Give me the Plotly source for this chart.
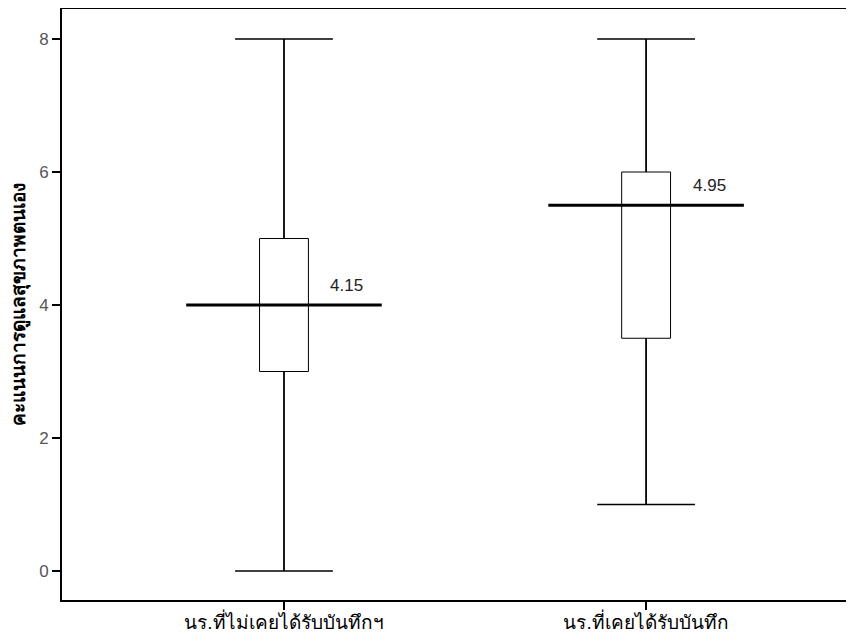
import plotly.graph_objects as go

categories = ["นร.ที่ไม่เคยได้รับบันทึกฯ", "นร.ที่เคยได้รับบันทึก"]
positions = [0, 1]
mins = [0, 1]
q1s = [3, 3.5]
medians = [4, 5.5]
q3s = [5, 6]
maxs = [8, 8]
means = [4.15, 4.95]
y_ticks = [0, 2, 4, 6, 8]
y_title = "คะแนนการดูแลสุขภาพตนเอง"

BOX_W = 0.135
CAP_HALF = 0.135
MED_HALF = 0.27

fig = go.Figure()

for i, p in enumerate(positions):
    fig.add_trace(go.Box(
        x=[p], q1=[q1s[i]], median=[medians[i]], q3=[q3s[i]],
        lowerfence=[mins[i]], upperfence=[maxs[i]],
        width=BOX_W, whiskerwidth=0, fillcolor="white",
        line=dict(color="black", width=1), boxpoints=False,
        showlegend=False, hoverinfo="skip",
    ))
    # whiskers
    fig.add_trace(go.Scatter(
        x=[p, p, None, p, p], y=[mins[i], q1s[i], None, q3s[i], maxs[i]],
        mode="lines", line=dict(color="black", width=1.6),
        showlegend=False, hoverinfo="skip"))
    # caps
    fig.add_trace(go.Scatter(
        x=[p - CAP_HALF, p + CAP_HALF, None, p - CAP_HALF, p + CAP_HALF],
        y=[mins[i], mins[i], None, maxs[i], maxs[i]],
        mode="lines", line=dict(color="black", width=1.6),
        showlegend=False, hoverinfo="skip"))
    # median
    fig.add_trace(go.Scatter(
        x=[p - MED_HALF, p + MED_HALF], y=[medians[i], medians[i]],
        mode="lines", line=dict(color="black", width=3.2),
        showlegend=False, hoverinfo="skip"))
    fig.add_annotation(
        x=p, y=medians[i], text=f"{means[i]:.2f}", showarrow=False,
        xshift=63, yshift=20, font=dict(size=17, color="#222222",
        family="Liberation Sans, Arial, sans-serif"))

fig.update_layout(
    width=838, height=626,
    margin=dict(l=54, r=0, t=1, b=34),
    plot_bgcolor="white", paper_bgcolor="white",
    font=dict(family="Liberation Sans, Arial, sans-serif"),
)
fig.update_xaxes(
    range=[-0.613, 1.552], tickvals=positions, ticktext=categories,
    showgrid=False, zeroline=False, showline=True, linecolor="black",
    linewidth=2, mirror=True, ticks="outside", ticklen=8, tickwidth=1.5,
    tickcolor="black", tickfont=dict(size=19, color="black"),
    ticklabelstandoff=-4, automargin=False,
)
fig.update_yaxes(
    range=[-0.436, 8.451], tickvals=y_ticks,
    showgrid=False, zeroline=False, showline=True, linecolor="black",
    linewidth=2, ticks="outside", ticklen=8, tickwidth=1.5,
    tickcolor="black", tickfont=dict(size=17, color="#555555"),
    title=dict(text="<b>" + y_title + "</b>", font=dict(size=19, color="black"), standoff=10),
    automargin=False,
)

fig.write_html("out.html")
